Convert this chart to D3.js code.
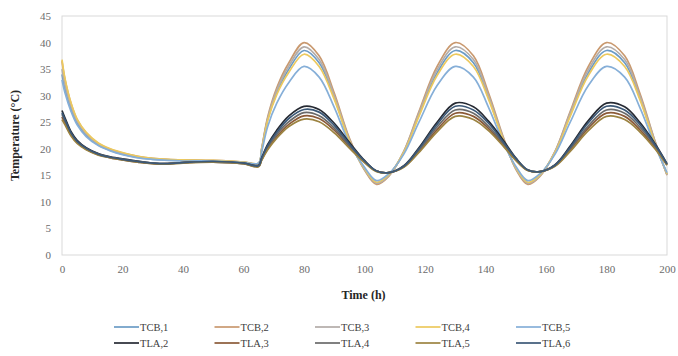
<!DOCTYPE html>
<html>
<head>
<meta charset="utf-8">
<script src="https://cdn.jsdelivr.net/npm/d3@7/dist/d3.min.js"></script>
<style>
  html, body { margin: 0; padding: 0; background: #ffffff; }
  svg { display: block; }
  text { font-family: "Liberation Serif", "Times New Roman", serif; }
</style>
</head>
<body>
<svg id="chart" width="678" height="356"></svg>
<script>
// Sample times (h)
const times = [0, 1, 3, 5, 8, 12, 16, 20, 25, 30, 35, 40, 50, 60,
  65, 66, 68, 71, 75, 80, 85, 90, 95, 100, 104, 108, 113, 118, 124, 130,
  136, 141, 146, 150, 154, 158, 163, 168, 174, 180, 186, 191, 196, 200];

// Temperatures (°C) per series, one value per sample time
const tcb1 = [34.0, 31.2, 27.5, 24.8, 22.5, 20.7, 19.7, 19.0, 18.4, 18.0, 17.9, 17.8, 17.7, 17.4,
  17.3, 19.8, 25.5, 30.5, 35.0, 38.5, 36.2, 29.6, 21.6, 16.2, 13.6, 15.0, 19.3, 26.4, 34.3, 38.5,
  36.2, 29.6, 21.6, 16.4, 13.6, 15.0, 19.3, 26.4, 34.3, 38.5, 36.2, 29.6, 21.1, 15.2];
const tcb2 = [36.5, 33.0, 28.5, 25.5, 23.0, 21.0, 19.9, 19.2, 18.6, 18.2, 18.0, 17.9, 17.8, 17.5,
  17.2, 20.0, 26.0, 31.5, 36.2, 40.0, 37.5, 30.5, 22.0, 16.0, 13.3, 14.8, 19.5, 27.0, 35.5, 40.0,
  37.5, 30.5, 22.0, 16.2, 13.3, 14.8, 19.5, 27.0, 35.5, 40.0, 37.5, 30.5, 21.5, 15.0];
const tcb3 = [35.0, 32.0, 28.0, 25.2, 22.8, 20.9, 19.8, 19.1, 18.5, 18.1, 17.9, 17.8, 17.7, 17.5,
  17.3, 20.0, 25.7, 31.0, 35.6, 39.2, 36.8, 30.0, 21.8, 16.1, 13.5, 14.9, 19.5, 26.7, 34.9, 39.2,
  36.8, 30.0, 21.8, 16.3, 13.5, 14.9, 19.5, 26.7, 34.9, 39.2, 36.8, 30.0, 21.4, 15.1];
const tcb4 = [36.8, 33.2, 28.6, 25.6, 23.1, 21.1, 20.0, 19.3, 18.6, 18.2, 18.0, 17.9, 17.8, 17.5,
  17.3, 19.7, 25.3, 30.2, 34.4, 37.8, 35.5, 29.3, 21.5, 16.3, 13.7, 15.1, 19.3, 26.1, 33.8, 37.8,
  35.5, 29.3, 21.5, 16.5, 13.7, 15.1, 19.3, 26.1, 33.8, 37.8, 35.5, 29.3, 21.0, 15.3];
const tcb5 = [33.0, 30.5, 27.0, 24.5, 22.3, 20.6, 19.6, 18.9, 18.3, 18.0, 17.8, 17.7, 17.7, 17.4,
  17.3, 19.4, 24.2, 28.6, 32.5, 35.5, 33.5, 27.8, 21.0, 16.5, 14.0, 15.3, 19.0, 25.0, 31.9, 35.5,
  33.5, 27.8, 21.0, 16.7, 14.0, 15.3, 19.0, 25.0, 31.9, 35.5, 33.5, 27.8, 20.6, 15.5];
const tla2 = [27.2, 25.8, 23.2, 21.6, 20.2, 19.1, 18.5, 18.1, 17.7, 17.3, 17.2, 17.4, 17.6, 17.3,
  16.9, 18.3, 20.8, 23.5, 26.2, 28.0, 27.4, 24.8, 21.2, 17.8, 15.8, 15.5, 16.8, 20.2, 25.0, 28.6,
  27.9, 25.2, 21.5, 18.3, 16.0, 15.7, 17.0, 20.5, 25.3, 28.6, 27.9, 25.0, 21.0, 17.2];
const tla3 = [26.0, 24.8, 22.6, 21.2, 19.9, 18.9, 18.3, 17.9, 17.5, 17.2, 17.2, 17.4, 17.5, 17.2,
  16.7, 17.9, 20.0, 22.3, 24.6, 26.2, 25.7, 23.5, 20.4, 17.5, 15.8, 15.5, 16.6, 19.5, 23.6, 26.7,
  26.1, 23.8, 20.6, 17.9, 15.9, 15.7, 16.8, 19.8, 23.9, 26.7, 26.1, 23.6, 20.2, 17.0];
const tla4 = [26.5, 25.2, 22.8, 21.3, 20.0, 19.0, 18.4, 18.0, 17.6, 17.3, 17.2, 17.4, 17.5, 17.2,
  16.8, 18.0, 20.3, 22.7, 25.1, 26.8, 26.2, 23.9, 20.6, 17.6, 15.8, 15.5, 16.7, 19.7, 24.1, 27.3,
  26.7, 24.2, 20.9, 18.0, 16.0, 15.7, 16.9, 20.0, 24.3, 27.3, 26.7, 24.1, 20.5, 17.0];
const tla5 = [25.5, 24.5, 22.4, 21.0, 19.8, 18.8, 18.3, 17.9, 17.5, 17.2, 17.1, 17.3, 17.5, 17.2,
  16.6, 17.8, 19.8, 22.0, 24.2, 25.6, 25.1, 23.0, 20.1, 17.4, 15.7, 15.5, 16.5, 19.3, 23.2, 26.1,
  25.5, 23.4, 20.4, 17.8, 15.9, 15.7, 16.7, 19.5, 23.4, 26.1, 25.5, 23.2, 20.0, 16.9];
const tla6 = [26.8, 25.5, 23.0, 21.4, 20.1, 19.0, 18.4, 18.0, 17.6, 17.3, 17.2, 17.4, 17.6, 17.3,
  16.8, 18.2, 20.6, 23.1, 25.7, 27.4, 26.9, 24.4, 20.9, 17.7, 15.8, 15.5, 16.7, 20.0, 24.6, 28.0,
  27.3, 24.8, 21.2, 18.2, 16.0, 15.7, 16.9, 20.3, 24.9, 28.0, 27.3, 24.6, 20.8, 17.1];

const seriesNames = ["TCB,1", "TCB,2", "TCB,3", "TCB,4", "TCB,5",
                     "TLA,2", "TLA,3", "TLA,4", "TLA,5", "TLA,6"];
const seriesValues = [tcb1, tcb2, tcb3, tcb4, tcb5, tla2, tla3, tla4, tla5, tla6];
const seriesColors = ["#6c9cc6", "#c9996f", "#b3aca8", "#ecc95e", "#86afd8",
                      "#262a33", "#8b5a38", "#6a6a6a", "#9c8341", "#3b5877"];

const xTicks = [0, 20, 40, 60, 80, 100, 120, 140, 160, 180, 200];
const yTicks = [0, 5, 10, 15, 20, 25, 30, 35, 40, 45];

const svg = d3.select("#chart");
const margin = { left: 62, right: 11, top: 16, bottom: 101 };
const W = 678, H = 356;

const x = d3.scaleLinear().domain([0, 200]).range([margin.left, W - margin.right]);
const y = d3.scaleLinear().domain([0, 45]).range([H - margin.bottom, margin.top]);

// plot frame
svg.append("rect")
  .attr("x", x(0)).attr("y", y(45))
  .attr("width", x(200) - x(0)).attr("height", y(0) - y(45))
  .attr("fill", "none").attr("stroke", "#d9d9d9").attr("stroke-width", 1);

// axes (labels only)
const xAxis = svg.append("g")
  .attr("transform", `translate(0,${y(0)})`)
  .call(d3.axisBottom(x).tickValues(xTicks).tickSize(0).tickPadding(10));
const yAxis = svg.append("g")
  .attr("transform", `translate(${x(0)},0)`)
  .call(d3.axisLeft(y).tickValues(yTicks).tickSize(0).tickPadding(11));
[xAxis, yAxis].forEach(g => {
  g.attr("font-family", "'Liberation Serif', serif").attr("font-size", 11);
  g.select(".domain").remove();
  g.selectAll("text").attr("fill", "#6b6b6b");
});

// lines
const line = d3.line()
  .x((d, i) => x(times[i]))
  .y(d => y(d))
  .curve(d3.curveCatmullRom.alpha(0.5));

svg.append("g").selectAll("path")
  .data(seriesValues)
  .join("path")
  .attr("d", line)
  .attr("fill", "none")
  .attr("stroke", (d, i) => seriesColors[i])
  .attr("stroke-width", 1.7)
  .attr("stroke-linejoin", "round");

// axis titles
svg.append("text")
  .attr("transform", `translate(19,${(y(0) + y(45)) / 2}) rotate(-90)`)
  .attr("text-anchor", "middle")
  .attr("fill", "#262626")
  .style("font-size", "12px")
  .style("font-weight", "bold")
  .text("Temperature (°C)");

svg.append("text")
  .attr("x", (x(0) + x(200)) / 2 - 1)
  .attr("y", 299)
  .attr("text-anchor", "middle")
  .attr("fill", "#262626")
  .style("font-size", "12px")
  .style("font-weight", "bold")
  .text("Time (h)");

// legend: two rows of five
const legend = svg.append("g");
seriesNames.forEach((name, i) => {
  const col = i % 5, row = Math.floor(i / 5);
  const lx = 114 + col * 100.5;
  const ly = 327 + row * 16;
  legend.append("line")
    .attr("x1", lx).attr("x2", lx + 25)
    .attr("y1", ly).attr("y2", ly)
    .attr("stroke", seriesColors[i]).attr("stroke-width", 1.7);
  legend.append("text")
    .attr("x", lx + 26).attr("y", ly + 3.5)
    .attr("fill", "#404040")
    .style("font-size", "10.5px")
    .text(name);
});
</script>
</body>
</html>
